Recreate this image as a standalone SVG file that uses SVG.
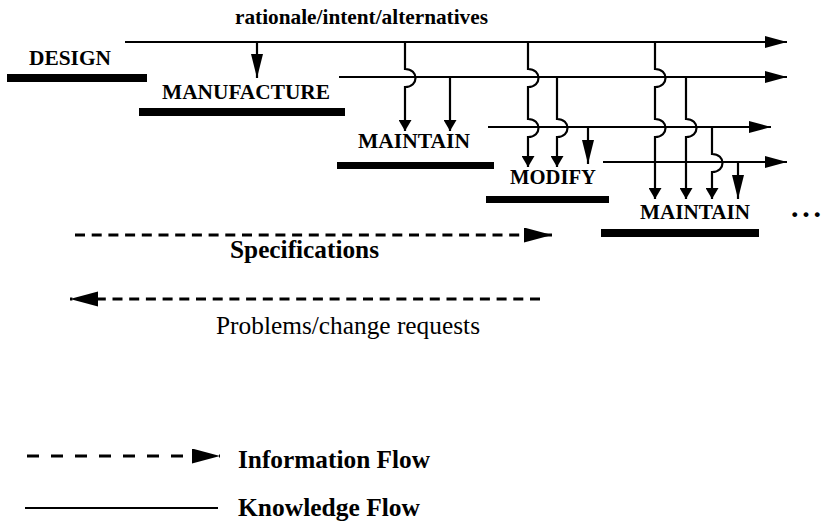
<svg xmlns="http://www.w3.org/2000/svg" width="823" height="523" viewBox="0 0 823 523">
<style>
.bg{fill:#fff}
.lbl{font-family:"Liberation Serif","Times New Roman",serif;font-weight:bold;font-size:22px;fill:#000}
.big{font-family:"Liberation Serif","Times New Roman",serif;font-weight:bold;font-size:25px;fill:#000}
.reg{font-family:"Liberation Serif","Times New Roman",serif;font-size:25px;fill:#000}
.bar{fill:#000}
.k{fill:none;stroke:#000;stroke-width:2.2}
.kh{fill:none;stroke:#000;stroke-width:2.2;marker-end:url(#ah)}
.ks{fill:none;stroke:#000;stroke-width:2.2;marker-end:url(#as)}
.kb{fill:none;stroke:#000;stroke-width:2.2;marker-end:url(#ab)}
.d1{fill:none;stroke:#000;stroke-width:2.8;stroke-dasharray:10 6.7;marker-end:url(#ad)}
.d2{fill:none;stroke:#000;stroke-width:2.8;stroke-dasharray:12 12;marker-end:url(#ad)}
</style>
<defs>
<marker id="ah" markerUnits="userSpaceOnUse" markerWidth="23" markerHeight="12" refX="22" refY="6" orient="auto"><path d="M0,0 L22,6 L0,12 z" fill="#000"/></marker>
<marker id="as" markerUnits="userSpaceOnUse" markerWidth="12" markerHeight="13" refX="11" refY="6.5" orient="auto"><path d="M0,0 L11,6.5 L0,13 z" fill="#000"/></marker>
<marker id="ab" markerUnits="userSpaceOnUse" markerWidth="25" markerHeight="12" refX="24" refY="6" orient="auto"><path d="M0,0 L24,6 L0,12 z" fill="#000"/></marker>
<marker id="ad" markerUnits="userSpaceOnUse" markerWidth="29" markerHeight="16" refX="28" refY="7.5" orient="auto"><path d="M0,0 L28,7.5 L0,15 z" fill="#000"/></marker>
</defs>
<rect class="bg" x="0" y="0" width="823" height="523"/>

<g id="connectors">
  <path class="kh" d="M125,42 H787"/>
  <path class="kh" d="M339,77 H787"/>
  <path class="kh" d="M488,127 H771"/>
  <path class="kh" d="M603,162 H787"/>
  <path class="kb" d="M257,42 V78"/>
  <path class="ks" d="M405,42 V69 C419,69 419,87 405,87 V131"/>
  <path class="ks" d="M450,77 V131"/>
  <path class="ks" d="M528,42 V69 C542,69 542,87 528,87 V119 C542,119 542,137 528,137 V167"/>
  <path class="ks" d="M557,77 V119 C571,119 571,137 557,137 V167"/>
  <path class="kb" d="M588,127 V164"/>
  <path class="ks" d="M655,42 V69 C669,69 669,87 655,87 V119 C669,119 669,137 655,137 V199"/>
  <path class="ks" d="M686,77 V119 C700,119 700,137 686,137 V199"/>
  <path class="ks" d="M712,127 V154 C726,154 726,172 712,172 V199"/>
  <path class="kb" d="M738,162 V199"/>
  <path class="d1" d="M75,235 H552"/>
  <path class="d1" d="M540,299 H70"/>
</g>

<text class="lbl" x="235" y="24" textLength="253" lengthAdjust="spacingAndGlyphs">rationale/intent/alternatives</text>

<g id="design">
  <rect class="bar" x="7" y="74" width="140" height="8"/>
  <text class="lbl" x="29" y="65" textLength="82" lengthAdjust="spacingAndGlyphs">DESIGN</text>
</g>
<g id="manufacture">
  <rect class="bar" x="139" y="108" width="206" height="8"/>
  <text class="lbl" x="162" y="99" textLength="168" lengthAdjust="spacingAndGlyphs">MANUFACTURE</text>
</g>
<g id="maintain1">
  <rect class="bar" x="337" y="162" width="157" height="7"/>
  <text class="lbl" x="358" y="148" textLength="112" lengthAdjust="spacingAndGlyphs">MAINTAIN</text>
</g>
<g id="modify">
  <rect class="bar" x="486" y="196" width="123" height="7"/>
  <text class="lbl" x="510" y="184" textLength="86" lengthAdjust="spacingAndGlyphs">MODIFY</text>
</g>
<g id="maintain2">
  <rect class="bar" x="601" y="229" width="158" height="8"/>
  <text class="lbl" x="640" y="219" textLength="110" lengthAdjust="spacingAndGlyphs">MAINTAIN</text>
</g>
<g id="ellipsis">
  <text class="big" x="791" y="217" style="font-size:30px" textLength="30" lengthAdjust="spacing">...</text>
</g>

<g id="specifications">
  <text class="big" x="230" y="258" textLength="149" lengthAdjust="spacingAndGlyphs">Specifications</text>
</g>
<g id="problems">
  <text class="reg" x="216" y="334" textLength="264" lengthAdjust="spacingAndGlyphs">Problems/change requests</text>
</g>

<g id="legend">
  <path class="d2" d="M27,456 H220"/>
  <text class="big" x="238" y="468" textLength="192" lengthAdjust="spacingAndGlyphs">Information Flow</text>
  <path class="k" d="M25,508 H218"/>
  <text class="big" x="238" y="516" textLength="182" lengthAdjust="spacingAndGlyphs">Knowledge Flow</text>
</g>
</svg>
